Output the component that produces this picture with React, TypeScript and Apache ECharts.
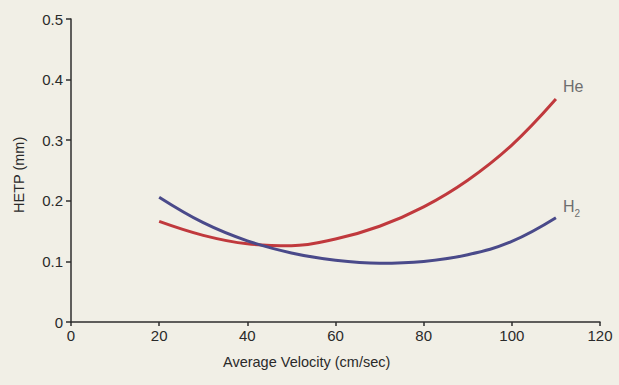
import React, { useEffect, useRef } from "react";
import * as echarts from "echarts";

const heVelocity = [20, 30, 40, 50, 60, 70, 80, 90, 100, 110];
const heHetp = [0.166, 0.143, 0.129, 0.126, 0.137, 0.158, 0.19, 0.234, 0.292, 0.368];
const h2Velocity = [20, 30, 40, 50, 60, 70, 80, 90, 100, 110];
const h2Hetp = [0.206, 0.164, 0.134, 0.114, 0.102, 0.097, 0.1, 0.111, 0.133, 0.172];
const xTicks = [0, 20, 40, 60, 80, 100, 120];
const yTicks = [0, 0.1, 0.2, 0.3, 0.4, 0.5];

const FONT = "Liberation Sans, Arial, sans-serif";

export default function App() {
  const ref = useRef<HTMLDivElement>(null);
  useEffect(() => {
    const chart = echarts.init(ref.current!, null, { renderer: "svg" });
    const axisLine = { show: true, lineStyle: { color: "#2e2e2e", width: 1.5 } };
    chart.setOption({
      animation: false,
      backgroundColor: "#f1efe6",
      grid: { left: 71, right: 19, top: 19, bottom: 63 },
      xAxis: {
        type: "value",
        min: xTicks[0],
        max: xTicks[xTicks.length - 1],
        interval: 20,
        axisLine,
        axisTick: { show: true, length: 4, lineStyle: { color: "#2e2e2e", width: 1.5 } },
        axisLabel: { color: "#2a2a2a", fontSize: 15, fontFamily: FONT, margin: 6 },
        splitLine: { show: false },
      },
      yAxis: {
        type: "value",
        min: yTicks[0],
        max: yTicks[yTicks.length - 1],
        interval: 0.1,
        axisLine,
        axisTick: { show: true, length: 5, lineStyle: { color: "#2e2e2e", width: 1.5 } },
        axisLabel: {
          color: "#2a2a2a",
          fontSize: 15,
          fontFamily: FONT,
          margin: 8,
          formatter: (v: number) => (v === 0 ? "0" : v.toFixed(1)),
        },
        splitLine: { show: false },
      },
      graphic: [
        {
          type: "text",
          left: 223,
          top: 354,
          style: { text: "Average Velocity (cm/sec)", fill: "#2a2a2a", font: `14.5px ${FONT}` },
        },
        {
          type: "text",
          x: 11,
          y: 213,
          rotation: Math.PI / 2,
          style: { text: "HETP (mm)", fill: "#2a2a2a", font: `14.5px ${FONT}` },
        },
      ],
      series: [
        {
          name: "He",
          type: "line",
          smooth: 0.4,
          symbol: "none",
          data: heVelocity.map((x, i) => [x, heHetp[i]]),
          lineStyle: { color: "#c0393d", width: 3 },
          endLabel: {
            show: true,
            formatter: "He",
            color: "#6e6e6e",
            fontSize: 16,
            fontFamily: FONT,
            offset: [-1, -12],
          },
        },
        {
          name: "H2",
          type: "line",
          smooth: 0.4,
          symbol: "none",
          data: h2Velocity.map((x, i) => [x, h2Hetp[i]]),
          lineStyle: { color: "#4a4a8a", width: 3 },
          endLabel: {
            show: true,
            formatter: "{a|H}{b|2}",
            offset: [-1, -11],
            rich: {
              a: { color: "#6e6e6e", fontSize: 16, fontFamily: FONT },
              b: { color: "#6e6e6e", fontSize: 10, fontFamily: FONT, padding: [14, 0, 0, 0] },
            },
          },
        },
      ],
    });
    return () => chart.dispose();
  }, []);
  return <div ref={ref} style={{ width: 619, height: 385, position: "absolute", left: 0, top: 0 }} />;
}
